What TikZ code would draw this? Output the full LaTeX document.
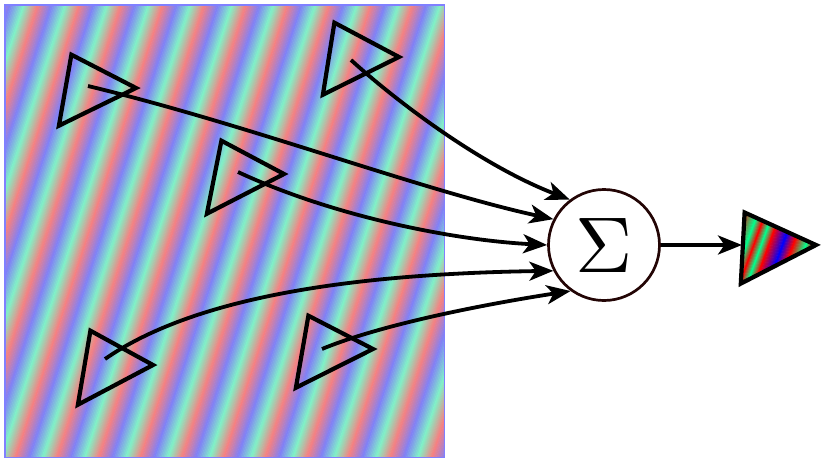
\documentclass[tikz,border=0pt]{standalone}
\usepackage{graphicx}
\usetikzlibrary{arrows.meta}

\definecolor{sumc}{RGB}{35,5,5}
\definecolor{framec}{RGB}{128,128,255}
\definecolor{sr}{RGB}{247,128,128}
\definecolor{sb}{RGB}{128,128,247}
\definecolor{sc}{RGB}{128,242,199}
\definecolor{or}{RGB}{255,0,0}
\definecolor{og}{RGB}{0,255,140}
\definecolor{ob}{RGB}{0,0,255}

\begin{document}
\begin{tikzpicture}[x=1pt,y=-1pt,
  tri/.style={line width=4.2pt, line join=miter, draw=black},
  conn/.style={line width=3.8pt, -{Stealth[length=24pt,width=19pt,inset=6.5pt]}},
]
\useasboundingbox (0,0) rectangle (821,459);

% striped field
\begin{scope}
  \clip (5,5) rectangle (444.5,457.5);
  \begin{scope}[shift={(225,231.5)}, rotate=-18]
    \foreach \u in {-340,-338.5,...,340}{
      \pgfmathsetmacro\ph{mod(\u+446.9,39.6)/13.2}
      \pgfmathtruncatemacro\sg{floor(\ph)}
      \pgfmathsetmacro\pc{100*(\ph-\sg)}
      \ifcase\sg \colorlet{stc}{sb!\pc!sr}\or \colorlet{stc}{sc!\pc!sb}\or \colorlet{stc}{sr!\pc!sc}\else \colorlet{stc}{sr}\fi
      \fill[stc] (\u,-380) rectangle ++(1.9,760);
    }
  \end{scope}
\end{scope}
\draw[framec, line width=1.5pt] (5,5) rectangle (444.5,457.5);

% input triangles
\draw[tri] (71.4,54.7) -- (136,88) -- (58.9,125.7) -- cycle;
\draw[tri] (334.4,22.7) -- (399,57) -- (322.9,94.7) -- cycle;
\draw[tri] (221.4,140.7) -- (284,174) -- (206.9,213.7) -- cycle;
\draw[tri] (90.4,330.7) -- (153,365) -- (77.9,404.7) -- cycle;
\draw[tri] (308.4,315.7) -- (373,349) -- (295.9,387.7) -- cycle;

\coordinate (s1) at (88,86);
\coordinate (s2) at (351,60);
\coordinate (s3) at (238,172);
\coordinate (s4) at (105,359);
\coordinate (s5) at (322,349);

% summation node
\node[circle, draw=sumc, line width=2.7pt, minimum size=111pt, inner sep=0pt] (sum) at (604,245) {\scalebox{7.9}{$\Sigma$}};

% connectors
\draw[conn] (s2) .. controls (395,100) and (480,165) .. (sum.127);
\draw[conn] (s1) .. controls (250,125) and (420,190) .. (sum.153);
\draw[conn] (s3) .. controls (330,215) and (450,240) .. (sum.180);
\draw[conn] (s4) .. controls (190,300) and (340,274) .. (sum.207);
\draw[conn] (s5) .. controls (380,325) and (480,305) .. (sum.234);

% output triangle
\begin{scope}
  \clip (744.6,212.5) -- (816,245) -- (740.8,283.6) -- cycle;
  \begin{scope}[shift={(780,248)}, rotate=-20]
    \foreach \a/\b/\ca/\cb in {0/12/ob/or, 12/27/or/og, 27/34/og/or, 34/41/or/og, 41/48/og/or, 48/61/or/ob, 61/71/ob/or, 71/83/or/og, 83/90/og/or, 90/100/or/ob, 100/120/ob/or}{
      \foreach \u in {\a,...,\b}{
        \pgfmathsetmacro\pc{100*(\u-\a)/(\b-\a)}
        \fill[\cb!\pc!\ca] (\u-60,-70) rectangle ++(1.4,140);
      }
    }
  \end{scope}
\end{scope}
\draw[tri] (744.6,212.5) -- (816,245) -- (740.8,283.6) -- cycle;
\coordinate (oin) at (742,245);
\draw[conn] (sum) -- (oin);
\end{tikzpicture}
\end{document}
